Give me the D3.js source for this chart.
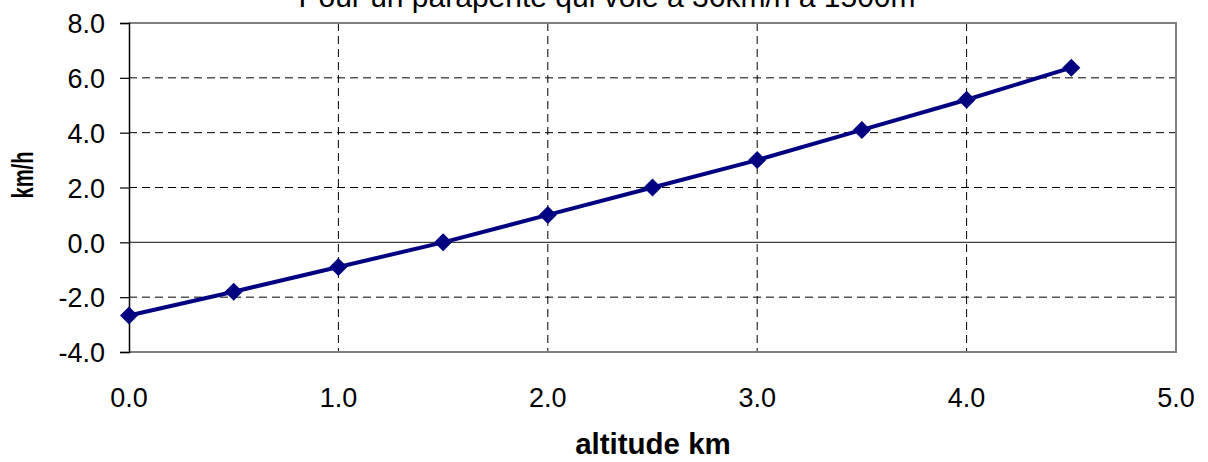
<!DOCTYPE html>
<html>
<head>
<meta charset="utf-8">
<script src="https://cdn.jsdelivr.net/npm/d3@7"></script>
<style>
  body { margin: 0; background: #fff; }
  text { font-family: "Liberation Sans", Arial, sans-serif; }
</style>
</head>
<body>
<script>
// altitude (km) and wind (km/h)
var altitudes = [0.0, 0.5, 1.0, 1.5, 2.0, 2.5, 3.0, 3.5, 4.0, 4.5];
var speeds = [-2.67, -1.8, -0.9, 0.0, 1.0, 2.0, 3.0, 4.1, 5.2, 6.37];
var xTicks = [0, 1, 2, 3, 4, 5];
var yTicks = [-4, -2, 0, 2, 4, 6, 8];
var chartTitle = "Pour un parapente qui vole à 36km/h à 1500m";

var margin = { top: 23, right: 32, bottom: 110, left: 129 },
  w = 1208 - margin.left - margin.right,
  h = 462 - margin.top - margin.bottom;

var fmt = function (d) { return d.toFixed(1); };

var svgRoot = d3.select("body").append("svg")
  .attr("width", 1208)
  .attr("height", 462);

var svg = svgRoot.append("g")
  .attr("transform", "translate(" + margin.left + "," + margin.top + ")");

var x = d3.scaleLinear().domain([0, 5]).range([0, w]);
var y = d3.scaleLinear().domain([-4, 8]).range([h, 0]);

// grid lines
svg.selectAll("line.hgrid")
  .data(yTicks.filter(function (d) { return d != 0 && d != -4 && d != 8; }))
  .enter().append("line")
  .attr("class", "hgrid")
  .attr("x1", 0).attr("x2", w)
  .attr("y1", function (d) { return y(d); })
  .attr("y2", function (d) { return y(d); })
  .attr("stroke", "#000")
  .attr("stroke-dasharray", "8,5")
  .attr("stroke-width", 1);

svg.selectAll("line.vgrid")
  .data(xTicks.filter(function (d) { return d != 0 && d != 5; }))
  .enter().append("line")
  .attr("class", "vgrid")
  .attr("y1", 0).attr("y2", h)
  .attr("x1", function (d) { return x(d); })
  .attr("x2", function (d) { return x(d); })
  .attr("stroke", "#000")
  .attr("stroke-dasharray", "8,5")
  .attr("stroke-width", 1);

// plot border (gray)
svg.append("path")
  .attr("d", "M0,0H" + w + "V" + h + "H0")
  .attr("fill", "none")
  .attr("stroke", "#808080")
  .attr("stroke-width", 2);

// zero line
svg.append("line")
  .attr("x1", 0).attr("x2", w)
  .attr("y1", y(0)).attr("y2", y(0))
  .attr("stroke", "#404040")
  .attr("stroke-width", 1.2);

// y axis
var yAxis = d3.axisLeft(y).tickValues(yTicks).tickSize(9).tickFormat(fmt);
var gy = svg.append("g").call(yAxis);
gy.attr("font-size", null).attr("font-family", null);
gy.select(".domain").attr("stroke", "#000").attr("stroke-width", 1.5);
gy.selectAll(".tick line").attr("stroke", "#000").attr("stroke-width", 1.2);
gy.selectAll(".tick text")
  .style("font-size", "27px")
  .attr("fill", "#000")
  .attr("x", -24)
  .attr("dy", "0.36em");

// x tick labels
svg.selectAll("text.xlab")
  .data(xTicks)
  .enter().append("text")
  .attr("class", "xlab")
  .attr("x", function (d) { return x(d); })
  .attr("y", h + 55)
  .attr("text-anchor", "middle")
  .style("font-size", "27px")
  .attr("fill", "#000")
  .text(fmt);

// line + markers
var line = d3.line()
  .x(function (d, i) { return x(altitudes[i]); })
  .y(function (d) { return y(d); });

svg.append("path")
  .datum(speeds)
  .attr("d", line)
  .attr("fill", "none")
  .attr("stroke", "#000080")
  .attr("stroke-width", 4);

svg.selectAll("path.pt")
  .data(speeds)
  .enter().append("path")
  .attr("class", "pt")
  .attr("transform", function (d, i) {
    return "translate(" + x(altitudes[i]) + "," + y(d) + ")";
  })
  .attr("d", "M0,-9L9,0L0,9L-9,0Z")
  .attr("fill", "#000080");

// titles
svgRoot.append("text")
  .attr("x", 607)
  .attr("y", 7)
  .attr("text-anchor", "middle")
  .style("font-size", "30px")
  .attr("fill", "#000")
  .text(chartTitle);

svgRoot.append("text")
  .attr("x", 653)
  .attr("y", 454)
  .attr("text-anchor", "middle")
  .style("font-size", "29.5px")
  .attr("font-weight", "bold")
  .attr("fill", "#000")
  .text("altitude km");

svgRoot.append("text")
  .attr("transform", "translate(33,175) rotate(-90)")
  .attr("text-anchor", "middle")
  .style("font-size", "29px")
  .attr("font-weight", "bold")
  .attr("textLength", 47)
  .attr("lengthAdjust", "spacingAndGlyphs")
  .attr("fill", "#000")
  .text("km/h");
</script>
</body>
</html>
